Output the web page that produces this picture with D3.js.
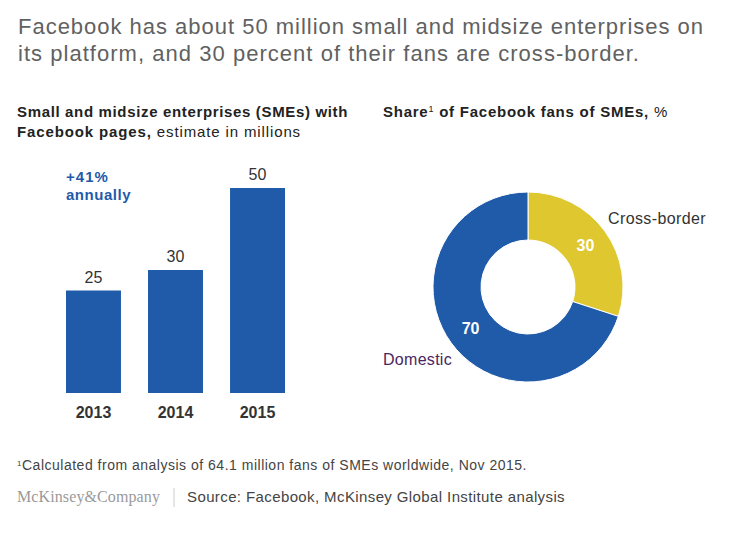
<!DOCTYPE html>
<html>
<head>
<meta charset="utf-8">
<script src="https://cdn.jsdelivr.net/npm/d3@7"></script>
<style>
  body { margin: 0; background: #fff; }
  svg { display: block; font-family: "Liberation Sans", Arial, sans-serif; }
</style>
</head>
<body>
<div class="container"></div>
<script>
const w = 729
const h = 547

const years = ["2013", "2014", "2015"]
const smes = [25, 30, 50]

const shareLabels = ["Cross-border", "Domestic"]
const shareValues = [30, 70]

const blue = "#1f5ba9"
const yellow = "#dfc72f"

const svg = d3.select(".container")
              .append("svg")
              .attr("width", w)
              .attr("height", h)

// stretch a line of text to the width it has in the original (wider typeface there)
function fit(sel, width) {
  const node = sel.node()
  const n = node.getNumberOfChars()
  const cur = node.getComputedTextLength()
  sel.style("letter-spacing", `${(width - cur) / n}px`)
  return sel
}

function line(x, y, size, color, txt) {
  return svg.append("text")
            .attr("x", x)
            .attr("y", y)
            .attr("fill", color)
            .style("font-size", `${size}px`)
            .text(txt)
}

// title
fit(line(18, 34, 22, "#616161", "Facebook has about 50 million small and midsize enterprises on"), 686)
fit(line(18, 61, 22, "#616161", "its platform, and 30 percent of their fans are cross-border."), 622)

// left subtitle
fit(line(17, 117, 15, "#222", "Small and midsize enterprises (SMEs) with")
      .style("font-weight", "bold"), 331)
const sub2 = line(17, 137, 15, "#222", null)
sub2.append("tspan").style("font-weight", "bold").text("Facebook pages,")
sub2.append("tspan").text(" estimate in millions")
fit(sub2, 284)

// right subtitle
const sub3 = line(383, 117, 15, "#222", null)
sub3.append("tspan").style("font-weight", "bold").text("Share")
sub3.append("tspan").attr("dy", -5).style("font-size", "9px").text("1")
sub3.append("tspan").attr("dy", 5).style("font-weight", "bold").text(" of Facebook fans of SMEs,")
sub3.append("tspan").text(" %")
fit(sub3, 285)

// bar chart
const xScale = d3.scaleBand()
                 .domain(years)
                 .range([66, 285])
                 .paddingInner(0.33)
                 .paddingOuter(0)

const yScale = d3.scaleLinear()
                 .domain([0, 50])
                 .range([393, 188])

svg.selectAll(".bar")
   .data(smes)
   .enter()
   .append("rect")
     .attr("class", "bar")
     .attr("x", (d, i) => xScale(years[i]))
     .attr("y", d => yScale(d))
     .attr("width", xScale.bandwidth())
     .attr("height", d => yScale(0) - yScale(d))
     .style("fill", blue)

svg.selectAll(".bar-label")
   .data(smes)
   .enter()
   .append("text")
     .attr("class", "bar-label")
     .attr("x", (d, i) => xScale(years[i]) + xScale.bandwidth() / 2)
     .attr("y", d => yScale(d) - 8)
     .attr("text-anchor", "middle")
     .attr("fill", "#333")
     .style("font-size", "16px")
     .text(d => d)

const xAxis = d3.axisBottom(xScale).tickSize(0).tickPadding(0)

svg.append("g")
   .attr("transform", `translate(0, ${yScale(0)})`)
   .call(xAxis)
   .call(g => g.select(".domain").remove())
   .call(g => g.selectAll("text")
               .attr("dy", 25)
               .attr("fill", "#333")
               .style("font-family", "Liberation Sans, Arial, sans-serif")
               .style("font-size", "16px")
               .style("font-weight", "bold"))

fit(line(66, 182, 15, blue, "+41%").style("font-weight", "bold"), 43)
fit(line(66, 200, 15, blue, "annually").style("font-weight", "bold"), 65)

// donut
const cx = 528
const cy = 287

const pie = d3.pie().sort(null)
const arc = d3.arc().innerRadius(47).outerRadius(95)

const donut = svg.append("g")
                 .attr("transform", `translate(${cx}, ${cy})`)

const slices = pie(shareValues)

donut.selectAll("path")
     .data(slices)
     .enter()
     .append("path")
       .attr("d", arc)
       .style("fill", (d, i) => i === 0 ? yellow : blue)
       .style("stroke", "#fff")
       .style("stroke-width", 1)

donut.selectAll(".slice-label")
     .data(slices)
     .enter()
     .append("text")
       .attr("class", "slice-label")
       .attr("transform", d => `translate(${arc.centroid(d)})`)
       .attr("text-anchor", "middle")
       .attr("dy", "0.35em")
       .attr("fill", "#fff")
       .style("font-size", "16px")
       .style("font-weight", "bold")
       .text(d => d.data)

fit(line(608, 224, 16, "#333", shareLabels[0]), 98)
fit(line(383, 365, 16, "#4b2660", shareLabels[1]), 69)

// footnote
const foot = line(17, 470, 14, "#444", null)
foot.append("tspan").attr("dy", -4).style("font-size", "8px").text("1")
foot.append("tspan").attr("dy", 4).text("Calculated from analysis of 64.1 million fans of SMEs worldwide, Nov 2015.")
fit(foot, 510)

fit(line(17, 502, 16, "#9a9a9a", "McKinsey&Company")
      .style("font-family", "Liberation Serif, serif"), 143)

svg.append("line")
   .attr("x1", 174).attr("x2", 174)
   .attr("y1", 488).attr("y2", 507)
   .attr("stroke", "#ccc")

fit(line(187, 502, 15, "#444", "Source: Facebook, McKinsey Global Institute analysis"), 378)
</script>
</body>
</html>
